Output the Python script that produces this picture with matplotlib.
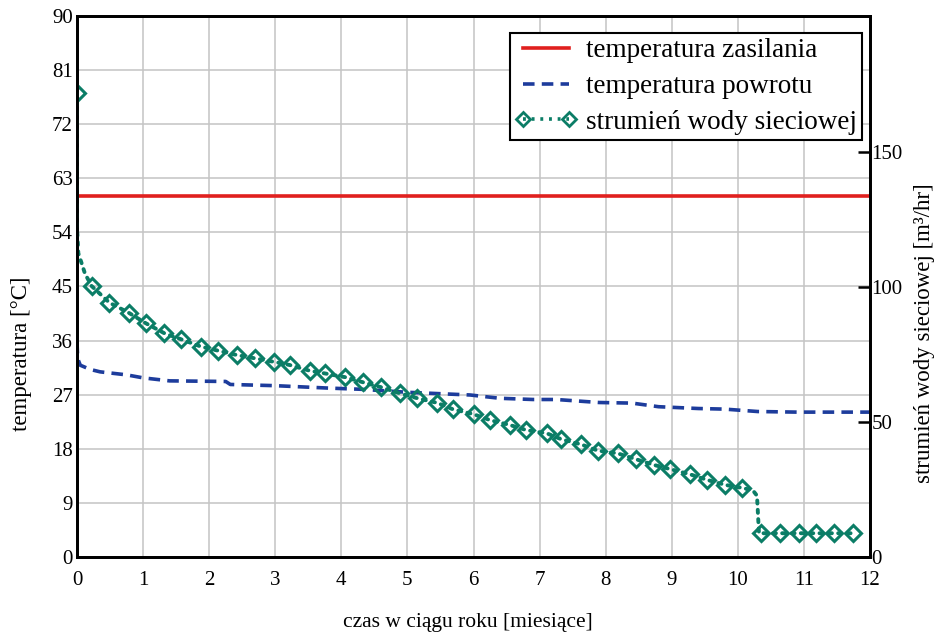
import numpy as np
import matplotlib
matplotlib.use("Agg")
import matplotlib.pyplot as plt
from matplotlib.lines import Line2D

plt.rcParams['font.family'] = ['Liberation Serif', 'DejaVu Serif']

# temperatura zasilania (stała)
supply_month = [0, 12]
supply_temp = [60, 60]

# temperatura powrotu
return_month = [0, 0.01, 0.05, 0.2, 0.35, 0.75, 1.0, 1.4, 2.25, 2.32, 3.0, 3.8,
                4.3, 5.0, 5.95, 6.4, 6.9, 7.25, 7.9, 8.4, 8.8, 9.4, 9.8, 10.3,
                10.9, 12]
return_temp = [35.8, 33.0, 31.9, 31.2, 30.8, 30.3, 29.8, 29.3, 29.2, 28.7, 28.5,
               28.1, 27.9, 27.4, 26.95, 26.4, 26.2, 26.2, 25.7, 25.6, 25.0, 24.7,
               24.6, 24.2, 24.1, 24.1]

# strumień wody sieciowej - punkty z markerami
flow_month = [0, 0.22, 0.49, 0.78, 1.04, 1.32, 1.58, 1.88, 2.14, 2.42, 2.69, 2.98,
              3.22, 3.52, 3.75, 4.06, 4.33, 4.60, 4.89, 5.15, 5.45, 5.69, 6.0,
              6.25, 6.55, 6.8, 7.11, 7.33, 7.63, 7.88, 8.18, 8.46, 8.73, 8.97,
              9.28, 9.53, 9.81, 10.07, 10.35, 10.64, 10.92, 11.19, 11.46, 11.74]
flow_value = [172, 100.4, 94.2, 90.5, 86.6, 82.9, 80.6, 77.9, 76.4, 74.8, 73.6,
              72.3, 71.1, 69.0, 68.0, 66.6, 64.7, 62.9, 60.6, 58.8, 57.1, 54.7,
              52.9, 50.7, 48.9, 47.0, 45.8, 43.6, 41.7, 39.4, 38.4, 36.2, 34.1,
              32.6, 30.6, 28.6, 26.7, 25.6, 8.8, 8.8, 8.8, 8.8, 8.8, 8.8]
# dodatkowe punkty krzywej (bez markerów)
knee_month = [0, 0.02, 0.07, 0.12, 10.23, 10.29, 10.32]
knee_value = [122, 112.5, 108.8, 105, 24.6, 22.7, 8.8]

GREEN = '#0b7d66'
BLUE = '#1d3c9c'
RED = '#e0201e'

fig = plt.figure(figsize=(9.38, 6.44), dpi=100)
ax = fig.add_axes([0.0821, 0.1351, 0.8454, 0.8401])
ax2 = ax.twinx()

ax.plot(supply_month, supply_temp, color=RED, lw=2.6, solid_capstyle='butt')
ax.plot(return_month, return_temp, color=BLUE, lw=2.6, linestyle=(0, (3.2, 2)))

curve_x = np.array(flow_month + knee_month)
curve_y = np.array(flow_value + knee_value)
order = np.lexsort((-curve_y, curve_x))
ax2.plot(curve_x[order], curve_y[order], color=GREEN, lw=2.8,
         linestyle=(0, (0.8, 1.6)), dash_capstyle='round')
ax2.plot(flow_month, flow_value, linestyle='none', marker='D', markersize=8.5,
         mfc='none', mec=GREEN, mew=2.2)

ax.set_xlim(0, 12)
ax.set_ylim(0, 90)
ax2.set_ylim(0, 200.4)
ax.set_xticks(range(0, 13))
ax.set_yticks(range(0, 91, 9))
ax2.set_yticks([0, 50, 100, 150])

ax.grid(True, color='#c4c4c4', lw=1.1)
ax.set_axisbelow(True)
ax.tick_params(axis='both', length=0, labelsize=15)
ax.tick_params(axis='x', pad=10)
ax.tick_params(axis='y', pad=3)
ax2.tick_params(axis='y', direction='in', length=9, width=1.8, labelsize=15, pad=1)

for a in (ax, ax2):
    for s in a.spines.values():
        s.set_linewidth(2)
        s.set_color('black')

fig.text(0.499, 0.034, 'czas w ciągu roku [miesiące]', fontsize=15.5,
         ha='center', va='center')
fig.text(0.023, 0.450, 'temperatura [°C]', fontsize=16.5, rotation=90,
         ha='center', va='center')
fig.text(0.986, 0.483, 'strumień wody sieciowej [m³/hr]', fontsize=16.5,
         rotation=90, ha='center', va='center')

handles = [
    Line2D([], [], color=RED, lw=2.6),
    Line2D([], [], color=BLUE, lw=2.6, linestyle=(0, (3.2, 2))),
    Line2D([], [], color=GREEN, lw=2.6, linestyle=(0, (0.8, 1.6)),
           marker='D', markersize=7, mfc='none', mec=GREEN, mew=2),
]
labels = ['temperatura zasilania', 'temperatura powrotu', 'strumień wody sieciowej']
leg = ax2.legend(handles, labels, loc='upper right', bbox_to_anchor=(0.990, 0.969),
                 fontsize=19.5, frameon=True, fancybox=False, framealpha=1,
                 edgecolor='black', numpoints=2, handlelength=2.3,
                 handletextpad=0.3, borderpad=0.2, labelspacing=0.4,
                 borderaxespad=0)
leg.get_frame().set_linewidth(1.5)

fig.savefig('out.png', dpi=100)
